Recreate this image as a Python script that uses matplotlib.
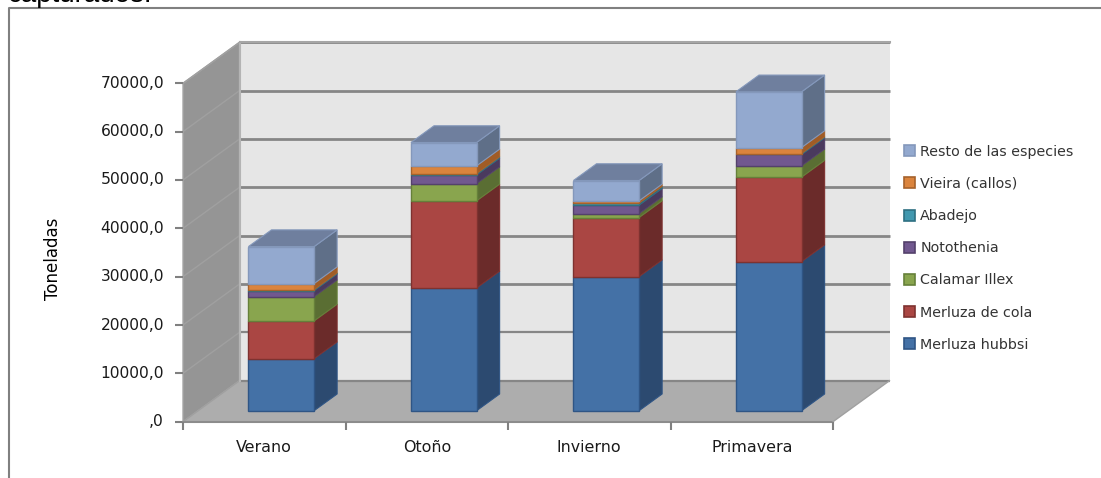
import matplotlib
matplotlib.use("Agg")
import matplotlib.pyplot as plt
from matplotlib.patches import Patch, Polygon

categorias = ["Verano", "Otoño", "Invierno", "Primavera"]
especies = ["Merluza hubbsi", "Merluza de cola", "Calamar Illex", "Notothenia",
            "Abadejo", "Vieira (callos)", "Resto de las especies"]
merluza_hubbsi = [10770, 25400, 27740, 30850]
merluza_cola = [7800, 18010, 12220, 17470]
calamar = [5030, 3580, 830, 2340]
notothenia = [1240, 1800, 1740, 2340]
abadejo = [200, 270, 410, 200]
vieira = [1250, 1590, 480, 1240]
resto = [7660, 4830, 4200, 11530]
ticks_y = [0, 10000, 20000, 30000, 40000, 50000, 60000, 70000]
ticks_labels = [",0", "10000,0", "20000,0", "30000,0", "40000,0", "50000,0", "60000,0", "70000,0"]

series = [merluza_hubbsi, merluza_cola, calamar, notothenia, abadejo, vieira, resto]
frente = ["#4471A6", "#AA4643", "#89A54E", "#71588F", "#4198AF", "#DB843D", "#93A9CF"]
lado = ["#2C4A70", "#6B2B2A", "#5A6E33", "#4A3A5E", "#2A6575", "#A05C26", "#5F6F88"]
borde = ["#2F5585", "#7E3230", "#66803A", "#54416B", "#2E7082", "#A6622C", "#8498BB"]

# pixels per unit, the axes fills the whole figure
W, H = 1101, 478
x0_px, y0_px = 183, 421.7
px_cat = 162.5
px_val = 338.4 / 70000
prof_x = 56.5 / px_cat
prof_y = 41 / px_val

fig = plt.figure(figsize=(W / 100, H / 100), dpi=100)
ax = fig.add_axes([0, 0, 1, 1])
ax.set_xlim(-x0_px / px_cat, (W - x0_px) / px_cat)
ax.set_ylim(-(H - y0_px) / px_val, y0_px / px_val)
ax.axis("off")


def pt(x, v, z=0.0):
    # oblique projection: z is the depth, 0 front, 1 back
    return (x + z * prof_x, v + z * prof_y)


def poly(puntos, color, edge="none", lw=0.0, zorder=2):
    ax.add_patch(Polygon(puntos, closed=True, facecolor=color, edgecolor=edge,
                         linewidth=lw, zorder=zorder, joinstyle="miter"))


n = len(categorias)
top = ticks_y[-1]
# walls and floor
poly([pt(0, 0, 1), pt(n, 0, 1), pt(n, top, 1), pt(0, top, 1)], "#E6E6E6", zorder=1)
poly([pt(0, 0, 0), pt(0, 0, 1), pt(0, top, 1), pt(0, top, 0)], "#959595", "#A6A6A6", 1, zorder=1)
poly([pt(0, 0, 0), pt(n, 0, 0), pt(n, 0, 1), pt(0, 0, 1)], "#ADADAD", zorder=1)

for t in ticks_y:
    ax.plot(*zip(pt(0, t, 1), pt(n, t, 1)), color="#868686", lw=2 if t >= 20000 else 1.6,
            zorder=1.5, solid_capstyle="butt")
    ax.plot(*zip(pt(0, t, 0), pt(0, t, 1)), color="#A0A0A0", lw=1, zorder=1.5)
    ax.plot([-8 / px_cat, 0], [t, t], color="#808080", lw=1.5, zorder=1.5, solid_capstyle="butt")
ax.plot(*zip(pt(0, 0, 1), pt(0, top, 1)), color="#B4B4B4", lw=1.5, zorder=1.5)
ax.plot(*zip(pt(0, top, 1), pt(n, top, 1)), color="#A6A6A6", lw=1.5, zorder=1.5)

# front edge of the floor with the category ticks
ax.plot(*zip(pt(0, 0, 0), pt(n, 0, 0)), color="#8C8C8C", lw=1.5, zorder=1.6)
ax.plot(*zip(pt(n, 0, 0), pt(n, 0, 1)), color="#A0A0A0", lw=1, zorder=1.6)
for i in range(n + 1):
    ax.plot([i, i], [0, -8 / 338.4 * 70000], color="#808080", lw=1.5, zorder=1.6, solid_capstyle="butt")

# bars
z1, z2 = 0.268, 0.676
off, ancho = 0.3095, 0.404
for i in range(n):
    a = i + off
    b = a + ancho
    base = 0
    for s, valores in enumerate(series):
        v = valores[i]
        zo = 3 + s * 0.1
        poly([pt(b, base, z1), pt(b, base, z2), pt(b, base + v, z2), pt(b, base + v, z1)],
             lado[s], borde[s], 0.8, zorder=zo)
        poly([pt(a, base, z1), pt(b, base, z1), pt(b, base + v, z1), pt(a, base + v, z1)],
             frente[s], borde[s], 1.0, zorder=zo)
        base += v
    poly([pt(a, base, z1), pt(b, base, z1), pt(b, base, z2), pt(a, base, z2)],
         "#6F7F9E", borde[-1], 0.8, zorder=4)

fuente = "DejaVu Sans"
for t, lab in zip(ticks_y, ticks_labels):
    ax.text(-19 / px_cat, t, lab, ha="right", va="center", fontsize=11.2, color="#1A1A1A", family=fuente)
for i, c in enumerate(categorias):
    ax.text(i + 0.5, -26 / px_val, c, ha="center", va="center", fontsize=11.4, color="#1A1A1A", family=fuente)
ax.text((53 - x0_px) / px_cat, (y0_px - 258.5) / px_val, "Toneladas", rotation=90, ha="center", va="center",
        fontsize=12, color="#000000", family=fuente)

handles = [Patch(facecolor=frente[s], edgecolor=borde[s], linewidth=1.2) for s in range(len(especies))][::-1]
ley = ax.legend(handles, especies[::-1], loc="upper left",
                bbox_to_anchor=(898 / W, 1 - 139 / H), frameon=False, fontsize=10.3,
                handlelength=0.8, handleheight=0.8, handletextpad=0.35,
                labelspacing=1.27, borderpad=0.4, borderaxespad=0)
for tx in ley.get_texts():
    tx.set_family(fuente)
    tx.set_color("#333333")

# outer frame and the clipped line of text above the chart
fig.add_artist(plt.Line2D([9 / W, 9 / W, 1], [0, 1 - 8 / H, 1 - 8 / H], color="#808080", lw=1.5))
fig.text(8 / W, 1 - 2 / H, "capturados.", fontsize=20, family="Liberation Sans", color="#000000",
         ha="left", va="baseline")

fig.savefig("out.png", dpi=100)
